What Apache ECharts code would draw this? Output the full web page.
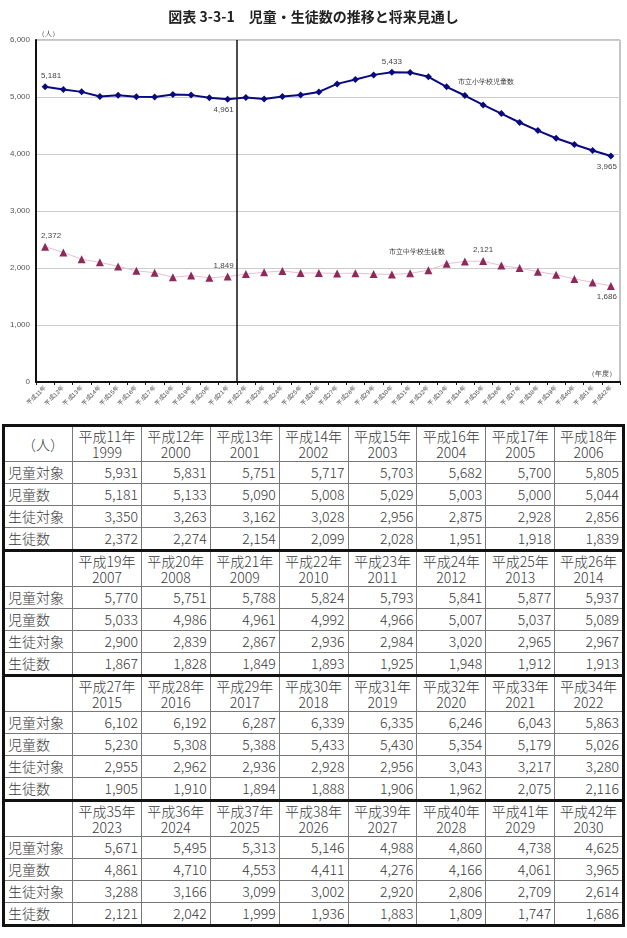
<!DOCTYPE html>
<html>
<head>
<meta charset="utf-8">
<script src="https://cdn.jsdelivr.net/npm/echarts@6/dist/echarts.min.js"></script>
<style>
  body { margin: 0; background: #fff; font-family: "Noto Sans CJK JP", sans-serif; }
  #chart { position: absolute; left: 0; top: 0; width: 627px; height: 420px; }
  #tbl { position: absolute; left: 2px; top: 424px; width: 623px; border-collapse: collapse;
         table-layout: fixed; border: 3px solid #111; color: #3a3a3a; font-size: 14px; font-weight: 300; }
  #tbl td { border: 1px solid #777; padding: 0 3px; height: 21px; line-height: 21px; white-space: nowrap; overflow: hidden; }
  #tbl tbody { border-top: 3px solid #111; }
  #tbl td.num { text-align: right; }
  #tbl td.lab { text-align: left; }
  #tbl tr.head td { text-align: center; height: 34px; line-height: 16px; }
  #tbl tr.head td.lab { text-align: right; padding-right: 8px; }
</style>
</head>
<body>
<div id="chart"></div>
<table id="tbl"></table>
<script>
// 年度 (西暦)
const years = [1999, 2000, 2001, 2002, 2003, 2004, 2005, 2006,
  2007, 2008, 2009, 2010, 2011, 2012, 2013, 2014,
  2015, 2016, 2017, 2018, 2019, 2020, 2021, 2022,
  2023, 2024, 2025, 2026, 2027, 2028, 2029, 2030];
const warekiLabels = years.map(y => '平成' + (y - 1988) + '年');

// 児童対象
const jidoTaisho = [5931, 5831, 5751, 5717, 5703, 5682, 5700, 5805,
  5770, 5751, 5788, 5824, 5793, 5841, 5877, 5937,
  6102, 6192, 6287, 6339, 6335, 6246, 6043, 5863,
  5671, 5495, 5313, 5146, 4988, 4860, 4738, 4625];
// 児童数
const jidoSu = [5181, 5133, 5090, 5008, 5029, 5003, 5000, 5044,
  5033, 4986, 4961, 4992, 4966, 5007, 5037, 5089,
  5230, 5308, 5388, 5433, 5430, 5354, 5179, 5026,
  4861, 4710, 4553, 4411, 4276, 4166, 4061, 3965];
// 生徒対象
const seitoTaisho = [3350, 3263, 3162, 3028, 2956, 2875, 2928, 2856,
  2900, 2839, 2867, 2936, 2984, 3020, 2965, 2967,
  2955, 2962, 2936, 2928, 2956, 3043, 3217, 3280,
  3288, 3166, 3099, 3002, 2920, 2806, 2709, 2614];
// 生徒数
const seitoSu = [2372, 2274, 2154, 2099, 2028, 1951, 1918, 1839,
  1867, 1828, 1849, 1893, 1925, 1948, 1912, 1913,
  1905, 1910, 1894, 1888, 1906, 1962, 2075, 2116,
  2121, 2042, 1999, 1936, 1883, 1809, 1747, 1686];

const yTicks = [0, 1000, 2000, 3000, 4000, 5000, 6000];

// which points carry a value label: [position, x offset]
const jidoLabelAt = { 0: ['top', 6], 10: ['bottom', -4], 19: ['top', 0], 31: ['bottom', -4] };
const seitoLabelAt = { 0: ['top', 6], 10: ['top', -4], 24: ['top', 0], 31: ['bottom', -4] };

const fmt = v => Number(v).toLocaleString('en-US');

function withLabels(values, where) {
  return values.map((v, i) => where[i] ? {
    value: v,
    label: { show: true, position: where[i][0], offset: [where[i][1], 0], distance: 3,
      formatter: p => fmt(p.value) }
  } : v);
}

const chart = echarts.init(document.getElementById('chart'));
chart.setOption({
  animation: false,
  title: {
    text: '図表 3-3-1　児童・生徒数の推移と将来見通し',
    left: 'center', top: 5,
    textStyle: { fontSize: 14, fontWeight: 'bold', color: '#222', fontFamily: 'Noto Sans CJK JP' }
  },
  grid: { left: 36, right: 7, top: 40, bottom: 38, show: true, borderColor: '#888', borderWidth: 1 },
  xAxis: [{
    type: 'category',
    data: warekiLabels,
    axisLine: { lineStyle: { color: '#111', width: 2 } },
    axisTick: { show: true, length: 3, lineStyle: { color: '#111' } },
    axisLabel: { interval: 0, rotate: 45, fontSize: 6, color: '#444', margin: 5 }
  }, {
    type: 'value', min: 0, max: warekiLabels.length, show: false
  }],
  yAxis: {
    type: 'value', min: yTicks[0], max: yTicks[yTicks.length - 1], interval: 1000,
    name: '（人）', nameLocation: 'end', nameGap: 2,
    nameTextStyle: { fontSize: 7, color: '#444', align: 'left', padding: [0, 0, 0, 2] },
    axisLine: { show: true, lineStyle: { color: '#111', width: 2 } },
    axisTick: { show: false },
    axisLabel: { fontSize: 8, color: '#555', margin: 6, formatter: v => fmt(v) },
    splitLine: { lineStyle: { color: '#ccc' } }
  },
  series: [{
    name: '市立小学校児童数',
    type: 'line',
    data: withLabels(jidoSu, jidoLabelAt),
    symbol: 'diamond', symbolSize: 7,
    itemStyle: { color: '#0a0a80' },
    lineStyle: { color: '#0a0a80', width: 2 },
    label: { fontSize: 8, color: '#444' },
    z: 5
  }, {
    name: '市立中学校生徒数',
    type: 'line',
    data: withLabels(seitoSu, seitoLabelAt),
    symbol: 'triangle', symbolSize: 8,
    itemStyle: { color: '#8e2a5a' },
    lineStyle: { color: '#e8bfd0', width: 1 },
    label: { fontSize: 8, color: '#444' },
    z: 4
  }, {
    type: 'line',
    xAxisIndex: 1,
    data: [],
    silent: true,
    markLine: {
      symbol: 'none', silent: true,
      label: { show: false },
      lineStyle: { color: '#111', width: 1.5, type: 'solid' },
      data: [{ xAxis: 11 }]
    }
  }],
  graphic: [
    { type: 'text', left: 458, top: 79, style: { text: '市立小学校児童数', fontSize: 7, fill: '#333' } },
    { type: 'text', left: 389, top: 249, style: { text: '市立中学校生徒数', fontSize: 7, fill: '#333' } },
    { type: 'text', left: 588, top: 371, style: { text: '（年度）', fontSize: 7, fill: '#333' } }
  ]
});

// table below the chart, 4 blocks of 8 years
const rows = [['児童対象', jidoTaisho], ['児童数', jidoSu], ['生徒対象', seitoTaisho], ['生徒数', seitoSu]];
const tbl = document.getElementById('tbl');
let html = '<colgroup><col style="width:69px">' + '<col>'.repeat(8) + '</colgroup>';
for (let b = 0; b < 4; b++) {
  const idx = [0, 1, 2, 3, 4, 5, 6, 7].map(k => b * 8 + k);
  html += '<tbody><tr class="head"><td class="lab">' + (b === 0 ? '（人）' : '') + '</td>';
  idx.forEach(i => { html += '<td>' + warekiLabels[i] + '<br>' + years[i] + '</td>'; });
  html += '</tr>';
  rows.forEach(([name, arr]) => {
    html += '<tr><td class="lab">' + name + '</td>';
    idx.forEach(i => { html += '<td class="num">' + fmt(arr[i]) + '</td>'; });
    html += '</tr>';
  });
  html += '</tbody>';
}
tbl.innerHTML = html;
</script>
</body>
</html>
